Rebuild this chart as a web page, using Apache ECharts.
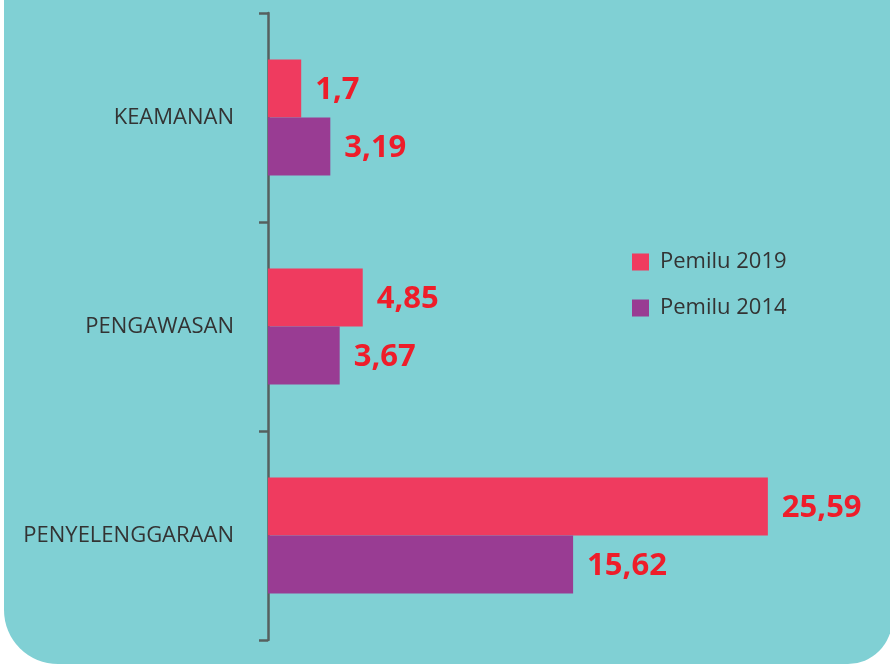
<!DOCTYPE html>
<html>
<head>
<meta charset="utf-8">
<script src="https://cdn.jsdelivr.net/npm/echarts@6/dist/echarts.min.js"></script>
<style>
  html, body { margin: 0; padding: 0; background: #fff; }
  #chart { width: 890px; height: 664px; }
</style>
</head>
<body>
<div id="chart"></div>
<script>
// data
var categories = ['KEAMANAN', 'PENGAWASAN', 'PENYELENGGARAAN'];
var pemilu2019 = [1.7, 4.85, 25.59];
var pemilu2014 = [3.19, 3.67, 15.62];
var seriesNames = ['Pemilu 2019', 'Pemilu 2014'];

var chart = echarts.init(document.getElementById('chart'));

function fmt(p) {
    return String(p.value).replace('.', ',');
}

var valueLabel = {
    show: true,
    position: 'right',
    distance: 14,
    formatter: fmt,
    color: '#ee1d2a',
    fontSize: 31,
    fontWeight: 'bold',
    fontFamily: 'Open Sans',
    offset: [0, 2]
};

var option = {
    animation: false,
    graphic: [{
        type: 'rect',
        z: -10,
        silent: true,
        shape: { x: 4, y: -80, width: 888, height: 744, r: [0, 0, 44, 54] },
        style: { fill: '#80d0d4' }
    }],
    legend: {
        orient: 'vertical',
        left: 627,
        top: 246,
        itemWidth: 17,
        itemHeight: 17,
        itemGap: 24,
        icon: 'rect',
        data: seriesNames,
        textStyle: { fontSize: 22, color: '#333', fontFamily: 'Open Sans', padding: [0, 0, 0, 6] }
    },
    grid: { left: 268, right: 36, top: 13, bottom: 24 },
    xAxis: {
        type: 'value',
        min: 0,
        max: 30,
        show: false
    },
    yAxis: {
        type: 'category',
        inverse: true,
        data: categories,
        axisLine: { show: true, lineStyle: { color: '#56605f', width: 2.5 } },
        axisTick: { show: true, length: 9, lineStyle: { color: '#56605f', width: 2.5 } },
        axisLabel: { margin: 34, fontSize: 22, color: '#333', fontFamily: 'Open Sans' }
    },
    series: [
        {
            name: seriesNames[0],
            type: 'bar',
            barWidth: 58,
            barGap: '0%',
            data: pemilu2019,
            itemStyle: { color: '#ef3b5f' },
            label: valueLabel
        },
        {
            name: seriesNames[1],
            type: 'bar',
            barWidth: 58,
            barGap: '0%',
            data: pemilu2014,
            itemStyle: { color: '#993c93' },
            label: valueLabel
        }
    ]
};

chart.setOption(option);
</script>
</body>
</html>
